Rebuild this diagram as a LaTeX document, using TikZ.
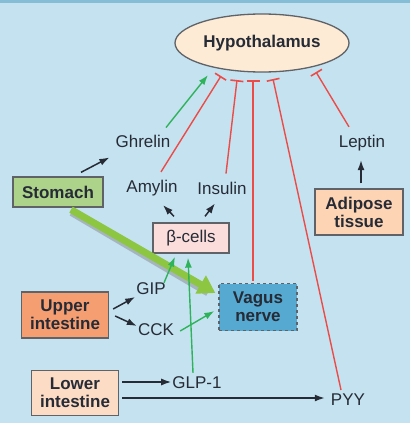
\documentclass[tikz,border=0pt]{standalone}
\usepackage{fontspec}
\setmainfont{Liberation Sans}
\usetikzlibrary{shapes.geometric,arrows.meta}
\definecolor{bgblue}{HTML}{C5E2F0}
\definecolor{topblue}{HTML}{86BDD6}
\definecolor{hypfill}{HTML}{FDEBD5}
\definecolor{stomfill}{HTML}{ADD38A}
\definecolor{betafill}{HTML}{FBDEDC}
\definecolor{adipfill}{HTML}{FDD4B4}
\definecolor{upfill}{HTML}{F59E72}
\definecolor{lowfill}{HTML}{FDDCC5}
\definecolor{vagfill}{HTML}{56A9D1}
\definecolor{inhib}{HTML}{EC4B47}
\definecolor{stim}{HTML}{2EB35B}
\definecolor{fatgreen}{HTML}{8DC641}
\definecolor{txt}{HTML}{262B35}
\definecolor{edge}{HTML}{5F6266}
\tikzset{
  organ/.style={draw=edge,line width=1.3pt,font=\fontsize{17}{18}\selectfont\bfseries,align=center,text=txt,inner sep=0pt},
  hormone/.style={text=txt,inner sep=1pt},
  inhibit/.style={draw=inhib,line width=1.4pt,-{Bar[width=13pt,line width=1.6pt]}},
  excite/.style={draw=stim,line width=1.4pt,-{Latex[length=10pt,width=7pt]}},
  release/.style={draw=txt,line width=1.5pt,-{Latex[length=10pt,width=7pt]}},
}
\begin{document}
\begin{tikzpicture}[x=1pt,y=-1pt,font=\fontsize{17}{18}\selectfont]
\fill[bgblue] (0,0) rectangle (410,423);
\fill[topblue] (0,0) rectangle (410,3);
% organs
\node[organ,ellipse,fill=hypfill,minimum width=174pt,minimum height=58pt] (hyp) at (262,43) {Hypothalamus};
\node[organ,fill=stomfill,minimum width=90pt,minimum height=30pt] (stom) at (58,192) {Stomach};
\node[organ,fill=betafill,minimum width=76pt,minimum height=30pt,font=\fontsize{17}{18}\selectfont] (beta) at (191,238) {β-cells};
\node[organ,fill=adipfill,minimum width=88pt,minimum height=46pt] (adip) at (359,212) {Adipose\\tissue};
\node[organ,fill=upfill,minimum width=87pt,minimum height=46pt] (up) at (65,315) {Upper\\intestine};
\node[organ,fill=lowfill,minimum width=87pt,minimum height=45pt] (low) at (75,393) {Lower\\intestine};
\node[organ,fill=vagfill,dashed,minimum width=78pt,minimum height=47pt] (vag) at (258,307) {Vagus\\nerve};
% hormones
\node[hormone] (ghr) at (143,141) {Ghrelin};
\node[hormone] (am) at (152,188) {Amylin};
\node[hormone] (ins) at (222,188) {Insulin};
\node[hormone] (lep) at (362,143) {Leptin};
\node[hormone] (gip) at (151,289) {GIP};
\node[hormone] (cck) at (156,330) {CCK};
\node[hormone] (glp) at (197,383) {GLP-1};
\node[hormone] (pyy) at (348,400) {PYY};
% thick stomach -> vagus
\draw[gray,opacity=.45,line width=9pt,shorten >=8pt] ([shift={(14,4)}]stom.south) -- ([shift={(-3,-11)}]vag.west);
\draw[fatgreen,line width=7pt,-{Triangle[length=17pt,width=20pt]}] ([shift={(13,2)}]stom.south) -- ([shift={(-3,-14)}]vag.west);
% release
\draw[release] ([shift={(23,-4)}]stom.north) -- ([shift={(-5,9)}]ghr.south west);
\draw[release] ([shift={(-17,-6)}]beta.north) -- ([shift={(11,8)}]am.south);
\draw[release] ([shift={(14,-6)}]beta.north) -- ([shift={(-7,8)}]ins.south);
\draw[release] ([shift={(2,-5)}]adip.north) -- ([shift={(-1,8)}]lep.south);
\draw[release] ([shift={(4,-6)}]up.east) -- ([shift={(0,8)}]gip.west);
\draw[release] ([shift={(6,1)}]up.east) -- ([shift={(0,-4)}]cck.west);
\draw[release] ([shift={(3,-11)}]low.east) -- ([shift={(0,-1)}]glp.west);
\draw[release] ([shift={(3,5)}]low.east) -- ([shift={(-5,-2)}]pyy.west);
% stimulation
\draw[excite] ([shift={(23,-6)}]ghr.north) -- ([shift={(-54,32)}]hyp.center);
\draw[excite] ([shift={(13,1)}]gip.north) -- ([shift={(-16,3)}]beta.south);
\draw[excite] ([shift={(-4,-3)}]glp.north) -- ([shift={(-3,4)}]beta.south);
\draw[excite] ([shift={(5,1)}]cck.east) -- ([shift={(-4,4)}]vag.west);
% inhibition
\draw[inhibit] ([shift={(9,-7)}]am.north) -- ([shift={(-41,33)}]hyp.center);
\draw[inhibit] ([shift={(4,-7)}]ins.north) -- ([shift={(-25,37)}]hyp.center);
\draw[inhibit] ([shift={(-5,-2)}]vag.north) -- ([shift={(-9,37)}]hyp.center);
\draw[inhibit] ([shift={(-7,-3)}]pyy.north) -- ([shift={(11,36)}]hyp.center);
\draw[inhibit] ([shift={(-13,-7)}]lep.north) -- ([shift={(54,29)}]hyp.center);
\end{tikzpicture}
\end{document}
